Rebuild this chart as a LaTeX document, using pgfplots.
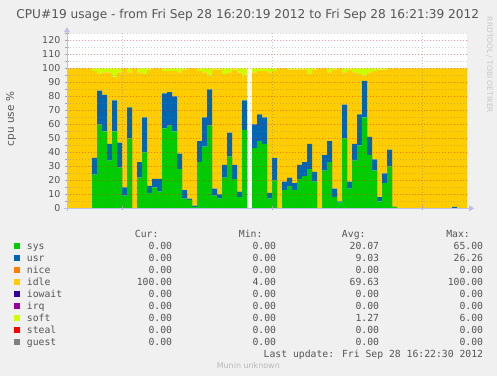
\documentclass[border=0pt]{standalone}
\usepackage{pgfplots}
\pgfplotsset{compat=1.18}
\usepackage{pgfplotstable}
\usepackage{fontspec}
\setmainfont{DejaVu Sans}
\newfontfamily\mono{DejaVu Sans Mono}
\usetikzlibrary{arrows.meta}

\definecolor{bg}{HTML}{F0F0F0}
\definecolor{csys}{HTML}{00CC00}
\definecolor{cusr}{HTML}{0066B3}
\definecolor{cnice}{HTML}{FF8000}
\definecolor{cidle}{HTML}{FFCC00}
\definecolor{ciowait}{HTML}{330099}
\definecolor{cirq}{HTML}{990099}
\definecolor{csoft}{HTML}{CCFF00}
\definecolor{csteal}{HTML}{FF0000}
\definecolor{cguest}{HTML}{808080}
\definecolor{axcol}{HTML}{BEBEEA}
\definecolor{txt}{HTML}{555555}

\pgfplotstableread{
x sys usr idle soft
0 0 0 100 0
1 0 0 100 0
2 0 0 100 0
3 0 0 100 0
4 0 0 100 0
5 24 12 62 2
6 60 24 12 4
7 55 26 16 3
8 34 12 51 3
9 55 22 17 6
10 29 18 50 3
11 9 6 85 0
12 50 22 25 3
13 0 0 100 0
14 22 11 64 3
15 40 25 31 4
16 11 5 83 1
17 15 6 79 0
18 12 9 79 0
19 57 25 16 2
20 59 24 15 2
21 55 25 18 2
22 28 11 58 3
23 7 6 86 1
24 6 1 93 0
25 1 1 98 0
26 33 15 50 2
27 44 21 32 3
28 59 26 10 5
29 9 5 85 1
30 7 3 89 1
31 22 9 65 4
32 37 17 43 3
33 21 10 68 1
34 8 4 85 3
35 56 21 18 5
36 0 0 0 0
37 43 17 37 3
38 48 19 31 2
39 46 19 33 2
40 7 4 86 3
41 20 16 62 2
42 0 0 100 0
43 13 6 81 0
44 16 6 77 1
45 13 5 81 1
46 21 10 68 1
47 23 10 66 1
48 28 18 50 4
49 19 7 73 1
50 0 0 100 0
51 27 11 62 0
52 33 15 49 3
53 8 6 85 1
54 4 1 95 0
55 50 24 23 3
56 14 5 80 1
57 34 12 51 3
58 45 22 29 4
59 65 26 4 5
60 38 13 46 3
61 27 8 63 2
62 5 3 91 1
63 18 7 74 1
64 30 12 58 0
65 1 0 99 0
66 0 0 100 0
67 0 0 100 0
68 0 0 100 0
69 0 0 100 0
70 0 0 100 0
71 0 0 100 0
72 0 0 100 0
73 0 0 100 0
74 0 0 100 0
75 0 0 100 0
76 0 0 100 0
77 0 1 99 0
78 0 0 100 0
79 0 0 100 0
80 0 0 100 0
}\cpudata

\newcommand{\legfont}{\mono\fontsize{9.8}{10}\selectfont}
\newcommand{\legrow}[7]{%
  \fill[#2] (14,{127.5-12*#1}) rectangle ++(6,6);
  \node[anchor=base west,inner sep=0pt,font=\legfont,text=txt] at (26.7,{126.7-12*#1}) {#3};
  \node[anchor=base east,inner sep=0pt,font=\legfont,text=txt] at (172.3,{126.7-12*#1}) {#4};
  \node[anchor=base east,inner sep=0pt,font=\legfont,text=txt] at (276.3,{126.7-12*#1}) {#5};
  \node[anchor=base east,inner sep=0pt,font=\legfont,text=txt] at (379.3,{126.7-12*#1}) {#6};
  \node[anchor=base east,inner sep=0pt,font=\legfont,text=txt] at (483.3,{126.7-12*#1}) {#7};
}

\begin{document}
\begin{tikzpicture}[x=1bp,y=1bp]
\useasboundingbox[fill=bg] (0,0) rectangle (497,376);
\begin{axis}[
  at={(67bp,167.7bp)}, anchor=south west,
  scale only axis, width=400bp, height=175bp,
  xmin=0, xmax=80, ymin=0, ymax=125,
  axis background/.style={fill=white},
  axis on top,
  axis lines*=left,
  axis line style={draw=axcol, line width=0.8bp},
  x axis line style={-{Triangle[length=5bp,width=6bp]}, shorten >=-7bp, shorten <=-3bp},
  y axis line style={-{Triangle[length=5bp,width=6bp]}, shorten >=-6bp, shorten <=-3bp},
  xtick={11,41,71}, xticklabels={},
  xmajorgrids,
  major x grid style={draw=gray, opacity=0.45, line width=0.6bp, dash pattern=on 1bp off 2bp},
  ytick={0,10,...,120},
  minor ytick={5,15,...,125},
  ymajorgrids, yminorgrids,
  major y grid style={draw=red, opacity=0.42, line width=0.8bp, dash pattern=on 1bp off 2bp},
  minor y grid style={draw=gray, opacity=0.35, line width=0.6bp, dash pattern=on 1bp off 2bp},
  tick style={draw=gray!70, line width=0.5bp},
  major tick length=4bp, minor tick length=4bp, tick align=center,
  yticklabel style={font=\fontsize{9.5}{10}\selectfont, text=txt, inner sep=0pt, xshift=-4.5bp},
  /pgf/number format/assume math mode=true,
  stack plots=y,
  const plot mark left,
]
\addplot[fill=csys, draw=none] table[x=x,y=sys]{\cpudata} \closedcycle;
\addplot[fill=cusr, draw=none] table[x=x,y=usr]{\cpudata} \closedcycle;
\addplot[fill=cidle, draw=none] table[x=x,y=idle]{\cpudata} \closedcycle;
\addplot[fill=csoft, draw=none] table[x=x,y=soft]{\cpudata} \closedcycle;
\end{axis}

\node[anchor=base, inner sep=0pt, font=\fontsize{12.2}{14}\selectfont, text=txt] at (247.8,357.7)
  {CPU\#19 usage - from Fri Sep 28 16:20:19 2012 to Fri Sep 28 16:21:39 2012};
\node[rotate=90, inner sep=0pt, font=\fontsize{10.5}{12}\selectfont, text=txt] at (11,257) {cpu use \%};
\node[rotate=-90, inner sep=0pt, font=\fontsize{7.5}{9}\selectfont, text=black!22] at (489.5,311) {RRDTOOL / TOBI OETIKER};

\node[anchor=base east,inner sep=0pt,font=\legfont,text=txt] at (158.7,138.7) {Cur:};
\node[anchor=base east,inner sep=0pt,font=\legfont,text=txt] at (262.7,138.7) {Min:};
\node[anchor=base east,inner sep=0pt,font=\legfont,text=txt] at (365.7,138.7) {Avg:};
\node[anchor=base east,inner sep=0pt,font=\legfont,text=txt] at (470,138.7) {Max:};

\legrow{0}{csys}{sys}{0.00}{0.00}{20.07}{65.00}
\legrow{1}{cusr}{usr}{0.00}{0.00}{9.03}{26.26}
\legrow{2}{cnice}{nice}{0.00}{0.00}{0.00}{0.00}
\legrow{3}{cidle}{idle}{100.00}{4.00}{69.63}{100.00}
\legrow{4}{ciowait}{iowait}{0.00}{0.00}{0.00}{0.00}
\legrow{5}{cirq}{irq}{0.00}{0.00}{0.00}{0.00}
\legrow{6}{csoft}{soft}{0.00}{0.00}{1.27}{6.00}
\legrow{7}{csteal}{steal}{0.00}{0.00}{0.00}{0.00}
\legrow{8}{cguest}{guest}{0.00}{0.00}{0.00}{0.00}

\node[anchor=base east,inner sep=0pt,font=\legfont,text=txt] at (483.3,19) {Last update: Fri Sep 28 16:22:30 2012};
\node[anchor=base,inner sep=0pt,font=\fontsize{8}{9}\selectfont,text=black!28] at (248.3,8) {Munin unknown};
\end{tikzpicture}
\end{document}
